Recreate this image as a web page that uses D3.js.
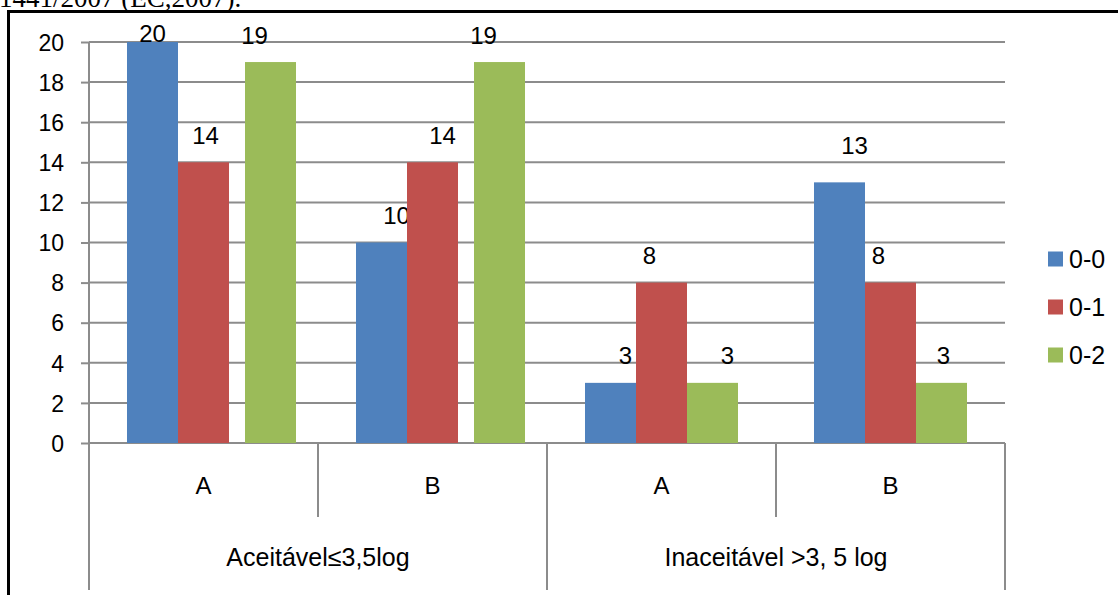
<!DOCTYPE html>
<html>
<head>
<meta charset="utf-8">
<script src="https://cdn.jsdelivr.net/npm/d3@7/dist/d3.min.js"></script>
<style>
  html, body { margin: 0; padding: 0; background: #fff; }
  svg { display: block; }
  text { font-family: "Liberation Sans", Arial, sans-serif; fill: #000; }
</style>
</head>
<body>
<svg id="chart" width="1118" height="595"></svg>
<script>
// ---- data ----
const groups = ["Aceitável≤3,5log", "Inaceitável >3, 5 log"];
const subCategories = ["A", "B", "A", "B"];
const subGroupOf = [0, 0, 1, 1];
const seriesNames = ["0-0", "0-1", "0-2"];
const values00 = [20, 10, 3, 13];
const values01 = [14, 14, 8, 8];
const values02 = [19, 19, 3, 3];
const yTicks = [0, 2, 4, 6, 8, 10, 12, 14, 16, 18, 20];
const captionText = "1441/2007 (EC,2007).";

// ---- style / layout ----
const colors = ["#4F81BD", "#C0504D", "#9BBB59"];
const gridColor = "#8c8c8c";
const plot = { left: 89, right: 1005, top: 42, bottom: 443 };
const fontSize = 24;
const tickFontSize = 23;
// manual label nudges (as in the original document)
const labelDx = [[0, 2, -16], [15, 10, -16], [15, -12, 15], [15, -12, 2]];
const labelDy = [[0, 0, 0], [0, 0, 0], [0, 0, 0], [-10, 0, 0]];
const greenShift = [16, 16, 0, 0];

const seriesValues = [values00, values01, values02];
const svg = d3.select("#chart");

// caption fragment at top (cut off)
svg.append("text").attr("x", -1).attr("y", 7)
  .style("font-family", "'Liberation Serif', 'Times New Roman', serif")
  .style("font-size", "27px").text(captionText);

// outer frame
svg.append("rect").attr("x", 8.5).attr("y", 11.5).attr("width", 1130).attr("height", 600)
  .attr("fill", "none").attr("stroke", "#000").attr("stroke-width", 3);

const idx = d3.range(subCategories.length);
const x0 = d3.scaleBand().domain(idx).range([plot.left, plot.right]).paddingInner(0).paddingOuter(0);
const x1 = d3.scaleBand().domain(seriesNames).range([0, x0.bandwidth()]).paddingInner(0).paddingOuter(0.745);
const y = d3.scaleLinear().domain([0, 20]).range([plot.bottom, plot.top]);

// gridlines + y axis
const yAxis = d3.axisLeft(y).tickValues(yTicks).tickSize(8).tickPadding(17).tickFormat(d3.format("d"));
const gy = svg.append("g").attr("transform", `translate(${plot.left},0)`).call(yAxis);
gy.select(".domain").remove();
gy.selectAll(".tick line").attr("stroke", gridColor).attr("stroke-width", 2);
gy.selectAll(".tick text").style("font-size", tickFontSize + "px").style("font-family", "'Liberation Sans', Arial, sans-serif").attr("fill", "#000").attr("dy", "0.36em");

svg.append("g").selectAll("line").data(yTicks).join("line")
  .attr("x1", plot.left).attr("x2", plot.right)
  .attr("y1", d => y(d)).attr("y2", d => y(d))
  .attr("stroke", gridColor).attr("stroke-width", 2);

// y axis line extended down
svg.append("line").attr("x1", plot.left).attr("x2", plot.left).attr("y1", plot.top).attr("y2", 590)
  .attr("stroke", gridColor).attr("stroke-width", 2);

// separators
idx.forEach(i => {
  const xr = x0(i) + x0.bandwidth();
  const isGroupEnd = i === idx.length - 1 || subGroupOf[i] !== subGroupOf[i + 1];
  svg.append("line").attr("x1", xr).attr("x2", xr).attr("y1", plot.bottom).attr("y2", isGroupEnd ? 590 : 517)
    .attr("stroke", gridColor).attr("stroke-width", 2);
});

// data points
const points = [];
idx.forEach(i => seriesNames.forEach((s, k) => {
  points.push({ i, k, s, v: seriesValues[k][i] });
}));
const barX = d => x0(d.i) + x1(d.s) + (d.k === 2 ? greenShift[d.i] : 0);

// labels (drawn under bars)
svg.append("g").selectAll("text").data(points).join("text")
  .attr("x", d => barX(d) + x1.bandwidth() / 2 + labelDx[d.i][d.k])
  .attr("y", d => Math.max(y(d.v) - 27, 33) + labelDy[d.i][d.k])
  .attr("dy", "0.36em").attr("text-anchor", "middle")
  .style("font-size", fontSize + "px").text(d => d.v);

// bars
svg.append("g").selectAll("rect").data(points).join("rect")
  .attr("x", barX).attr("width", x1.bandwidth())
  .attr("y", d => y(d.v)).attr("height", d => y(0) - y(d.v))
  .attr("fill", d => colors[d.k]);

// category labels
svg.append("g").selectAll("text").data(idx).join("text")
  .attr("x", i => x0(i) + x0.bandwidth() / 2).attr("y", 485).attr("dy", "0.36em")
  .attr("text-anchor", "middle").style("font-size", fontSize + "px").text(i => subCategories[i]);

svg.append("g").selectAll("text").data(groups).join("text")
  .attr("x", (g, gi) => {
    const members = idx.filter(i => subGroupOf[i] === gi);
    return (x0(members[0]) + x0(members[members.length - 1]) + x0.bandwidth()) / 2;
  })
  .attr("y", 557).attr("dy", "0.36em").attr("text-anchor", "middle")
  .style("font-size", "25px").text(g => g);

// legend
const lg = svg.append("g").selectAll("g").data(seriesNames).join("g")
  .attr("transform", (d, k) => `translate(1048,${259 + k * 48})`);
lg.append("rect").attr("x", 0).attr("y", -7.5).attr("width", 15).attr("height", 15).attr("fill", (d, k) => colors[k]);
lg.append("text").attr("x", 21).attr("y", 0).attr("dy", "0.36em").style("font-size", "25px").text(d => d);
</script>
</body>
</html>
